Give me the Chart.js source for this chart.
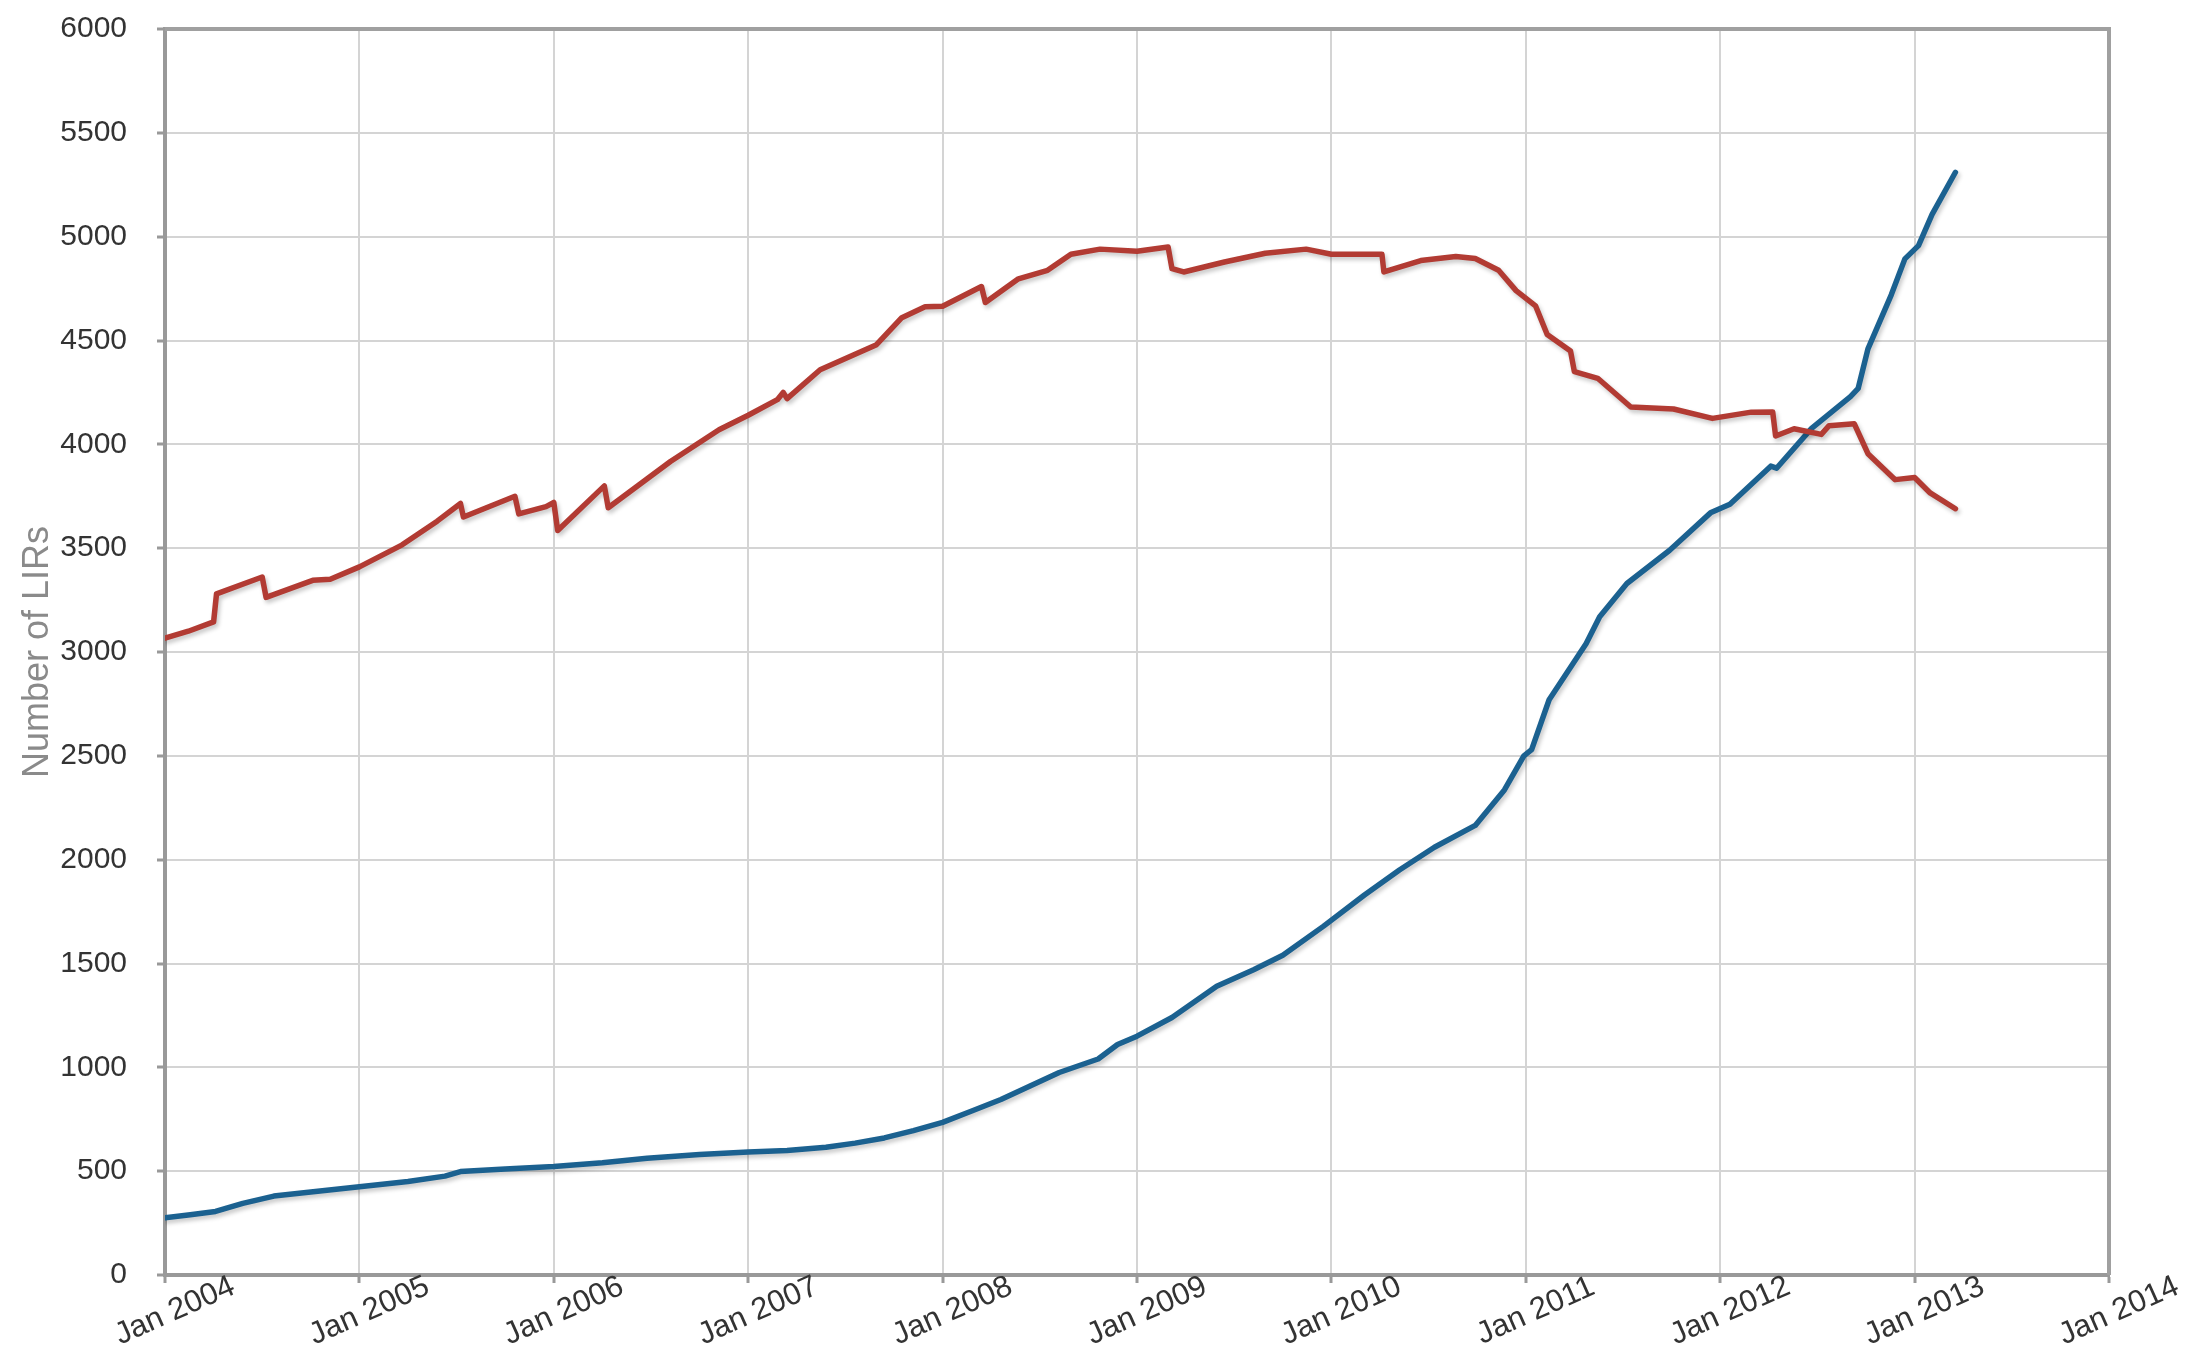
<!DOCTYPE html>
<html>
<head>
<meta charset="utf-8">
<script src="https://cdn.jsdelivr.net/npm/chart.js@4.4.1/dist/chart.umd.min.js"></script>
<style>
    html, body { margin: 0; padding: 0; background: #fff; }
    #wrap { width: 2193px; height: 1349px; position: relative; }
</style>
</head>
<body>
<div id="wrap"><canvas id="lirChart"></canvas></div>
<script>
// x values are decimal years
const yearTicks = [2004, 2005, 2006, 2007, 2008, 2009, 2010, 2011, 2012, 2013, 2014];
const yearLabels = ['Jan 2004', 'Jan 2005', 'Jan 2006', 'Jan 2007', 'Jan 2008', 'Jan 2009',
    'Jan 2010', 'Jan 2011', 'Jan 2012', 'Jan 2013', 'Jan 2014'];

const redDates = [
    2004.00, 2004.12, 2004.25, 2004.265, 2004.50, 2004.52, 2004.76, 2004.85, 2005.00, 2005.22,
    2005.40, 2005.52, 2005.535, 2005.80, 2005.82, 2005.96, 2006.00, 2006.02, 2006.26, 2006.28,
    2006.60, 2006.85, 2007.00, 2007.15, 2007.18, 2007.20, 2007.37, 2007.66, 2007.79, 2007.91,
    2008.00, 2008.20, 2008.22, 2008.39, 2008.54, 2008.66, 2008.81, 2009.00, 2009.16, 2009.18,
    2009.24, 2009.45, 2009.66, 2009.87, 2010.00, 2010.26, 2010.27, 2010.46, 2010.64, 2010.74,
    2010.86, 2010.95, 2011.05, 2011.11, 2011.23, 2011.25, 2011.37, 2011.54, 2011.76, 2011.96,
    2012.16, 2012.27, 2012.285, 2012.38, 2012.52, 2012.56, 2012.69, 2012.76, 2012.90, 2013.00,
    2013.08, 2013.21
];
const redValues = [
    3067, 3100, 3145, 3280, 3361, 3263, 3345, 3350, 3410, 3516,
    3630, 3715, 3650, 3750, 3665, 3700, 3720, 3585, 3800, 3695,
    3917, 4070, 4140, 4215, 4250, 4220, 4359, 4480, 4610, 4662,
    4665, 4760, 4683, 4797, 4838, 4915, 4940, 4930, 4950, 4846,
    4830, 4878, 4920, 4940, 4915, 4915, 4830, 4885, 4905, 4895,
    4838, 4740, 4667, 4529, 4450, 4350, 4318, 4180, 4170, 4125,
    4155, 4156, 4040, 4075, 4048, 4090, 4099, 3955, 3830, 3840,
    3766, 3690
];

const blueDates = [
    2004.00, 2004.13, 2004.26, 2004.40, 2004.56, 2004.75, 2005.00, 2005.25, 2005.44, 2005.52,
    2005.75, 2006.00, 2006.25, 2006.48, 2006.75, 2007.00, 2007.20, 2007.40, 2007.55, 2007.70,
    2007.85, 2008.00, 2008.15, 2008.30, 2008.45, 2008.60, 2008.80, 2008.90, 2009.00, 2009.18,
    2009.41, 2009.60, 2009.75, 2009.96, 2010.17, 2010.35, 2010.53, 2010.74, 2010.89, 2010.99,
    2011.03, 2011.12, 2011.31, 2011.38, 2011.52, 2011.74, 2011.95, 2012.05, 2012.26, 2012.29,
    2012.47, 2012.67, 2012.71, 2012.76, 2012.88, 2012.95, 2013.02, 2013.09, 2013.21
];
const blueValues = [
    275, 290, 306, 345, 380, 400, 425, 450, 476, 498,
    510, 522, 540, 562, 580, 592, 600, 615, 635, 660,
    695, 735, 790, 845, 910, 975, 1040, 1110, 1150, 1240,
    1390, 1470, 1540, 1680, 1830, 1950, 2060, 2165, 2336, 2500,
    2530, 2770, 3040, 3170, 3330, 3490, 3670, 3712, 3895, 3885,
    4077, 4230, 4270, 4460, 4720, 4893, 4957, 5107, 5310
];

const fontFamily = '"Liberation Sans", Arial, Helvetica, sans-serif';

function toPoints(xs, ys) {
    return xs.map((x, i) => ({ x: x, y: ys[i] }));
}

// soft shadow under the lines, like the original
const lineShadow = {
    id: 'lineShadow',
    beforeDatasetDraw(chart) {
        const ctx = chart.ctx;
        ctx.save();
        ctx.shadowColor = 'rgba(0, 0, 0, 0.22)';
        ctx.shadowBlur = 4;
        ctx.shadowOffsetX = 2;
        ctx.shadowOffsetY = 3;
    },
    afterDatasetDraw(chart) {
        chart.ctx.restore();
    }
};

// frame on top/right plus rotated "Jan YYYY" labels
const frameAndLabels = {
    id: 'frameAndLabels',
    afterDraw(chart) {
        const { ctx, chartArea, scales } = chart;
        ctx.save();
        ctx.strokeStyle = '#a0a0a0';
        ctx.lineWidth = 4;
        ctx.beginPath();
        ctx.moveTo(chartArea.left, chartArea.top);
        ctx.lineTo(chartArea.right, chartArea.top);
        ctx.lineTo(chartArea.right, chartArea.bottom);
        ctx.stroke();

        ctx.font = '31px ' + fontFamily;
        ctx.fillStyle = '#333';
        ctx.textAlign = 'center';
        ctx.textBaseline = 'middle';
        yearTicks.forEach((yr, i) => {
            const px = scales.x.getPixelForValue(yr);
            ctx.save();
            ctx.translate(px + 10, chartArea.bottom + 36);
            ctx.rotate(-24 * Math.PI / 180);
            ctx.fillText(yearLabels[i], 0, 0);
            ctx.restore();
        });
        ctx.restore();
    }
};

function initializeChart() {
    const ctx = document.getElementById('lirChart');
    if (!ctx) return null;

    return new Chart(ctx, {
        type: 'line',
        data: {
            datasets: [{
                label: 'red',
                data: toPoints(redDates, redValues),
                borderColor: '#b23b33',
                borderWidth: 5.5,
                pointRadius: 0,
                tension: 0,
                borderJoinStyle: 'round',
                borderCapStyle: 'round'
            }, {
                label: 'blue',
                data: toPoints(blueDates, blueValues),
                borderColor: '#1b6190',
                borderWidth: 5.5,
                pointRadius: 0,
                tension: 0,
                borderJoinStyle: 'round',
                borderCapStyle: 'round'
            }]
        },
        options: {
            responsive: true,
            maintainAspectRatio: false,
            devicePixelRatio: 1,
            animation: false,
            layout: {
                padding: { top: 29, right: 84, left: 0, bottom: 0 }
            },
            plugins: {
                legend: { display: false },
                tooltip: { enabled: false }
            },
            scales: {
                x: {
                    type: 'linear',
                    min: 2004,
                    max: 2014,
                    ticks: { stepSize: 1, display: false },
                    grid: { color: '#d4d4d4', lineWidth: 2, tickLength: 8, tickColor: '#999', tickWidth: 3 },
                    border: { color: '#999', width: 4 },
                    afterFit(scale) { scale.height = 74; }
                },
                y: {
                    min: 0,
                    max: 6000,
                    ticks: {
                        stepSize: 500,
                        padding: 30,
                        color: '#333',
                        font: { family: fontFamily, size: 30 },
                        callback: (value) => String(value)
                    },
                    grid: { color: '#d4d4d4', lineWidth: 2, tickLength: 8, tickColor: '#999', tickWidth: 3 },
                    border: { color: '#999', width: 4 },
                    title: {
                        display: true,
                        text: 'Number of LIRs',
                        color: '#8a8a8a',
                        font: { family: fontFamily, size: 36 },
                        padding: { top: 16, bottom: 0 }
                    },
                    afterFit(scale) {
                        scale.width = 165;
                        scale.paddingTop = 0;
                        scale.paddingBottom = 0;
                    }
                }
            }
        },
        plugins: [lineShadow, frameAndLabels]
    });
}

document.addEventListener('DOMContentLoaded', () => {
    initializeChart();
});
</script>
</body>
</html>
